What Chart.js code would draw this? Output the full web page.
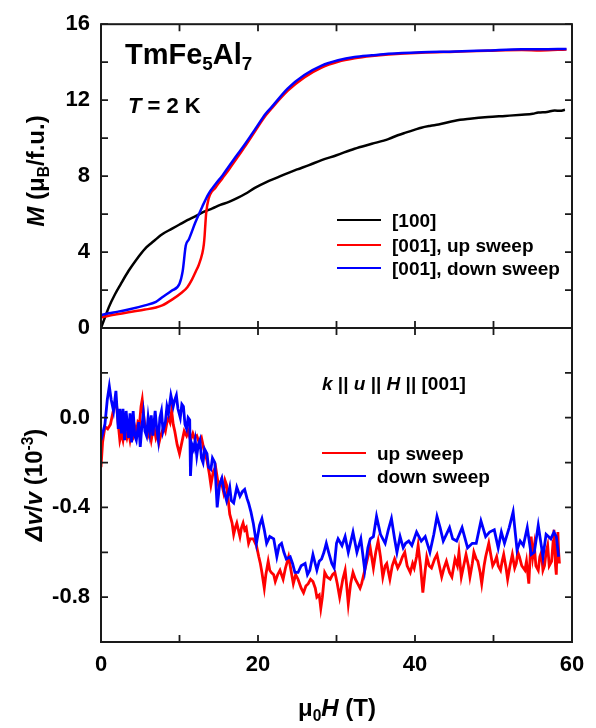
<!DOCTYPE html>
<html lang="en">
<head>
<meta charset="UTF-8">
<title>TmFe5Al7 - M(H) and sound velocity</title>
<script src="https://cdn.jsdelivr.net/npm/chart.js"></script>
<style>
  body { margin: 0; background: #fff; }
  .wrap { position: relative; width: 596px; height: 728px; overflow: hidden;
          font-family: "Liberation Sans", Arial, sans-serif; font-weight: bold; color: #000; }
  canvas { position: absolute; left: 0; top: 0; }
  .lbl { position: absolute; white-space: nowrap; line-height: 1; transform: translateY(-50%); }
  .ctr { position: absolute; white-space: nowrap; line-height: 1; transform: translate(-50%, -50%); }
  .rot { position: absolute; white-space: nowrap; line-height: 1; transform: translate(-50%, -50%) rotate(-90deg); }
  .sub { font-size: 65%; position: relative; top: 0.32em; }
  .sup { font-size: 65%; position: relative; top: -0.55em; }
  .key { position: absolute; height: 0; width: 44px; border-top: 2.5px solid; }
</style>
</head>
<body>
<div class="wrap">
  <canvas id="chartM" width="596" height="728"></canvas>
  <canvas id="chartV" width="596" height="728"></canvas>

  <div class="lbl" style="left:125px; top:54px; font-size:29px;">TmFe<span class="sub">5</span>Al<span class="sub">7</span></div>
  <div class="lbl" style="left:128px; top:106px; font-size:22px;"><i>T</i> = 2 K</div>

  <div class="key" style="left:337px; top:219px; border-color:#000;"></div>
  <div class="key" style="left:337px; top:244px; border-color:#ff0000;"></div>
  <div class="key" style="left:337px; top:267px; border-color:#0000ff;"></div>
  <div class="lbl" style="left:392px; top:220px; font-size:19px;">[100]</div>
  <div class="lbl" style="left:392px; top:245px; font-size:19px;">[001], up sweep</div>
  <div class="lbl" style="left:392px; top:268px; font-size:19px;">[001], down sweep</div>

  <div class="lbl" style="left:322px; top:383px; font-size:19px;"><i>k</i> || <i>u</i> || <i>H</i> || [001]</div>
  <div class="key" style="left:322px; top:452px; border-color:#ff0000;"></div>
  <div class="key" style="left:322px; top:475px; border-color:#0000ff;"></div>
  <div class="lbl" style="left:377px; top:453px; font-size:19px;">up sweep</div>
  <div class="lbl" style="left:377px; top:476px; font-size:19px;">down sweep</div>

  <div class="rot" style="left:36px; top:171px; font-size:24px;"><i>M</i> (μ<span class="sub">B</span>/f.u.)</div>
  <div class="rot" style="left:34px; top:485px; font-size:24px;"><i>Δv</i>/<i>v</i> (10<span class="sup">-3</span>)</div>
  <div class="ctr" style="left:337px; top:708px; font-size:24px;">μ<span class="sub">0</span><i>H</i> (T)</div>
</div>

<script>
// field axis (T)
const fieldTicks = [0, 10, 20, 30, 40, 50, 60];
const fieldLabels = [0, 20, 40, 60];
// magnetization axis (muB/f.u.)
const mTicks = [0, 2, 4, 6, 8, 10, 12, 14, 16];
const mLabels = [0, 4, 8, 12, 16];
// sound velocity axis (1e-3)
const dvTicks = [-1.0, -0.8, -0.6, -0.4, -0.2, 0.0, 0.2, 0.4];
const dvLabels = [-0.8, -0.4, 0.0];

// M(H), [H, M]
const m100 = [[0,0],[0.5,0.55],[1,1.1],[1.8,1.79],[2.5,2.3],[3.5,3.0],[4.5,3.6],[5.6,4.17],[6.5,4.5],[7.8,4.94],
  [9,5.22],[10,5.45],[11,5.68],[12,5.88],[13,6.1],[14.2,6.3],[15.2,6.48],[16.3,6.64],[17.4,6.85],[18.4,7.07],
  [19.6,7.38],[21,7.67],[22.5,7.93],[23.8,8.16],[25,8.35],[26.5,8.58],[28.1,8.84],[30,9.1],[32.3,9.44],[34.5,9.7],
  [36.6,9.95],[37.8,10.15],[38.8,10.29],[40,10.45],[40.8,10.55],[42,10.65],[43,10.72],[45.1,10.92],[47,11.02],[49.3,11.11],
  [51.5,11.17],[53.6,11.23],[55,11.28],[55.7,11.35],[56.8,11.38],[57.8,11.45],[58.5,11.44],[59.1,11.49]];
const m001Up = [[0,0.55],[1,0.65],[2,0.72],[3.5,0.83],[5.6,0.97],[7,1.08],[7.8,1.19],[9,1.48],[10.3,1.87],[11,2.15],
  [11.6,2.56],[12.1,3.0],[12.45,3.32],[12.9,3.92],[13.1,4.4],[13.2,4.86],[13.3,5.5],[13.4,6.05],[13.7,6.8],[14.6,7.4],
  [15.5,7.9],[16.3,8.35],[17.4,9.0],[18.4,9.6],[19.6,10.35],[21,11.2],[21.7,11.55],[23.8,12.5],[25.9,13.2],[28.1,13.72],
  [30.2,14.02],[32.3,14.2],[34.5,14.32],[36.6,14.4],[40.8,14.5],[45.1,14.55],[49.3,14.6],[53.6,14.64],[56,14.62],[59.3,14.67]];
const m001Down = [[0,0.68],[1,0.78],[2,0.85],[3.5,0.97],[5.6,1.19],[7,1.38],[7.8,1.62],[9,1.96],[10,2.33],[10.4,2.98],
  [10.8,4.34],[11.2,4.68],[12,5.54],[12.9,6.39],[13.7,7.07],[14.6,7.58],[15.5,8.05],[16.3,8.52],[17.4,9.15],[18.4,9.72],
  [19.6,10.45],[21,11.3],[21.7,11.62],[23.8,12.62],[25.9,13.32],[28.1,13.82],[30.2,14.1],[32.3,14.27],[34.5,14.36],[36.6,14.44],
  [40.8,14.52],[45.1,14.56],[49.3,14.62],[53.6,14.68],[56,14.68],[59.3,14.7]];

// dv/v (1e-3), [H, dv/v]
const dvUp = [[0,-0.22],[0.2,-0.11],[0.5,-0.04],[0.85,-0.05],[1.2,-0.03],[1.5,0.02],[1.8,0.07],[2.0,0.05],[2.2,-0.03],[2.4,-0.10],
  [2.6,-0.07],[2.8,-0.10],[3.0,-0.05],[3.3,-0.09],[3.5,-0.06],[3.7,-0.10],[3.9,-0.06],[4.1,-0.08],[4.3,-0.04],[4.5,-0.07],
  [4.7,-0.02],[4.9,-0.03],[5.1,0.05],[5.25,0.08],[5.4,0.02],[5.6,-0.04],[5.8,-0.05],[6.0,-0.08],[6.2,-0.06],[6.4,-0.10],
  [6.6,-0.06],[6.8,-0.05],[7.0,-0.09],[7.2,-0.07],[7.4,-0.11],[7.6,-0.08],[7.8,-0.06],[8.0,-0.04],[8.2,-0.06],[8.4,-0.02],
  [8.6,0.0],[8.8,-0.02],[9.0,0.03],[9.2,-0.03],[9.4,-0.06],[9.7,-0.12],[10.0,-0.16],[10.3,-0.11],[10.6,-0.06],[10.9,-0.08],
  [11.1,-0.06],[11.4,-0.10],[11.7,-0.07],[11.9,-0.09],[12.2,-0.08],[12.5,-0.11],[12.8,-0.09],[13.1,-0.14],[13.5,-0.19],[13.8,-0.25],
  [14.0,-0.30],[14.3,-0.24],[14.6,-0.22],[15.0,-0.31],[15.3,-0.28],[15.6,-0.33],[15.8,-0.28],[16.0,-0.30],[16.4,-0.43],[16.7,-0.47],
  [16.9,-0.52],[17.1,-0.49],[17.3,-0.47],[17.5,-0.50],[17.7,-0.53],[17.9,-0.49],[18.1,-0.47],[18.3,-0.50],[18.5,-0.49],[18.8,-0.56],
  [19.0,-0.54],[19.4,-0.54],[19.8,-0.57],[20.1,-0.62],[20.3,-0.65],[20.5,-0.69],[20.8,-0.76],[21.0,-0.70],[21.3,-0.64],[21.5,-0.68],
  [21.7,-0.69],[22.0,-0.70],[22.2,-0.73],[22.5,-0.70],[22.8,-0.68],[23.0,-0.70],[23.2,-0.72],[23.5,-0.67],[23.9,-0.62],[24.2,-0.68],
  [24.5,-0.74],[24.8,-0.70],[25.1,-0.72],[25.5,-0.76],[25.8,-0.78],[26.1,-0.75],[26.4,-0.74],[26.7,-0.72],[27.0,-0.73],[27.3,-0.76],
  [27.5,-0.80],[27.8,-0.79],[28.0,-0.85],[28.2,-0.80],[28.5,-0.69],[28.8,-0.71],[29.2,-0.72],[29.5,-0.70],[29.8,-0.69],[30.1,-0.74],
  [30.4,-0.80],[30.8,-0.72],[31.1,-0.68],[31.3,-0.75],[31.5,-0.83],[31.8,-0.74],[32.1,-0.69],[32.4,-0.72],[32.7,-0.74],[33.0,-0.76],
  [33.2,-0.74],[33.6,-0.68],[34.0,-0.62],[34.3,-0.58],[34.7,-0.67],[35.0,-0.60],[35.3,-0.55],[35.6,-0.62],[35.9,-0.71],[36.2,-0.66],
  [36.4,-0.65],[36.8,-0.72],[37.1,-0.66],[37.4,-0.63],[37.8,-0.67],[38.1,-0.65],[38.4,-0.62],[38.7,-0.60],[39.0,-0.66],[39.4,-0.69],
  [39.7,-0.65],[39.9,-0.67],[40.2,-0.62],[40.4,-0.57],[40.7,-0.66],[41.0,-0.78],[41.3,-0.68],[41.5,-0.62],[41.8,-0.66],[42.1,-0.67],
  [42.5,-0.63],[42.8,-0.61],[43.1,-0.66],[43.4,-0.71],[43.7,-0.67],[44.0,-0.64],[44.4,-0.69],[44.7,-0.71],[45.1,-0.63],[45.4,-0.66],
  [45.6,-0.60],[45.9,-0.71],[46.2,-0.66],[46.5,-0.61],[46.8,-0.66],[47.0,-0.71],[47.3,-0.65],[47.5,-0.60],[47.8,-0.63],[48.0,-0.64],
  [48.3,-0.69],[48.5,-0.74],[48.8,-0.66],[49.0,-0.62],[49.2,-0.59],[49.4,-0.56],[49.7,-0.62],[49.9,-0.66],[50.2,-0.64],[50.4,-0.62],
  [50.6,-0.66],[50.9,-0.68],[51.1,-0.64],[51.3,-0.61],[51.6,-0.67],[51.8,-0.72],[52.1,-0.66],[52.4,-0.61],[52.7,-0.67],[52.9,-0.65],
  [53.1,-0.60],[53.3,-0.62],[53.6,-0.66],[54.0,-0.68],[54.2,-0.64],[54.5,-0.74],[54.7,-0.60],[54.8,-0.53],[55.0,-0.62],[55.2,-0.57],
  [55.4,-0.66],[55.7,-0.68],[55.9,-0.62],[56.1,-0.60],[56.3,-0.68],[56.5,-0.66],[56.7,-0.60],[56.9,-0.57],[57.1,-0.66],[57.4,-0.64],
  [57.6,-0.55],[57.7,-0.50],[57.9,-0.66],[58.0,-0.70],[58.1,-0.58],[58.2,-0.51],[58.3,-0.60],[58.4,-0.65]];
const dvDown = [[0,-0.10],[0.5,-0.03],[0.8,0.08],[1.06,0.14],[1.3,0.08],[1.6,0.03],[1.9,0.12],[2.2,-0.05],[2.4,0.04],[2.6,-0.07],
  [2.8,0.04],[3.0,-0.10],[3.2,0.03],[3.5,-0.09],[3.7,0.02],[3.9,-0.11],[4.1,0.03],[4.3,-0.08],[4.5,-0.10],[4.8,-0.02],
  [5.0,-0.13],[5.2,-0.04],[5.4,0.02],[5.6,-0.06],[5.8,-0.08],[6.0,0.0],[6.2,-0.06],[6.4,0.01],[6.6,-0.08],[6.9,0.03],
  [7.1,-0.05],[7.3,-0.10],[7.5,0.0],[7.7,0.03],[7.9,-0.06],[8.2,-0.02],[8.4,0.05],[8.6,0.02],[8.9,0.10],[9.2,0.05],
  [9.4,0.08],[9.6,0.10],[9.8,0.04],[10.1,0.0],[10.3,0.06],[10.5,0.05],[10.7,-0.03],[10.9,-0.05],[11.1,0.0],[11.3,-0.01],
  [11.4,-0.26],[11.6,-0.12],[11.8,-0.14],[12.0,-0.10],[12.2,-0.17],[12.4,-0.12],[12.6,-0.10],[12.8,-0.18],[13.0,-0.20],[13.2,-0.14],
  [13.5,-0.16],[13.7,-0.22],[14.0,-0.23],[14.2,-0.18],[14.5,-0.20],[14.8,-0.40],[15.1,-0.30],[15.4,-0.27],[15.7,-0.33],[16.0,-0.37],
  [16.4,-0.31],[16.6,-0.37],[16.9,-0.38],[17.3,-0.31],[17.7,-0.35],[18.0,-0.33],[18.3,-0.32],[18.6,-0.36],[18.8,-0.38],[19.1,-0.42],
  [19.4,-0.47],[19.8,-0.56],[20.2,-0.48],[20.5,-0.45],[20.8,-0.50],[21.1,-0.56],[21.5,-0.53],[22.0,-0.54],[22.4,-0.62],[22.7,-0.57],
  [23.0,-0.56],[23.3,-0.60],[23.6,-0.63],[24.1,-0.62],[24.4,-0.65],[24.7,-0.69],[25.1,-0.69],[25.5,-0.66],[26.0,-0.65],[26.3,-0.70],
  [26.6,-0.68],[27.0,-0.61],[27.5,-0.68],[27.8,-0.64],[28.1,-0.63],[28.4,-0.60],[28.7,-0.56],[29.0,-0.60],[29.4,-0.65],[29.7,-0.67],
  [30.0,-0.56],[30.2,-0.54],[30.7,-0.57],[31.1,-0.53],[31.5,-0.60],[32.1,-0.51],[32.6,-0.60],[33.1,-0.54],[33.6,-0.68],[34.0,-0.58],
  [34.3,-0.54],[34.7,-0.53],[35.1,-0.44],[35.6,-0.52],[36.2,-0.56],[36.6,-0.50],[37.0,-0.45],[37.4,-0.54],[37.7,-0.60],[38.1,-0.53],
  [38.5,-0.58],[38.8,-0.56],[39.2,-0.55],[39.6,-0.57],[40.2,-0.51],[40.8,-0.55],[41.3,-0.53],[41.9,-0.60],[42.4,-0.52],[42.8,-0.44],
  [43.2,-0.49],[43.6,-0.55],[44.0,-0.52],[44.4,-0.49],[44.8,-0.54],[45.3,-0.55],[46.0,-0.49],[46.7,-0.58],[47.3,-0.56],[47.8,-0.56],
  [48.4,-0.46],[49.0,-0.53],[49.5,-0.51],[50.1,-0.50],[50.6,-0.58],[51.0,-0.51],[51.4,-0.56],[52.0,-0.49],[52.5,-0.42],[53.0,-0.59],
  [53.4,-0.55],[53.8,-0.57],[54.3,-0.49],[54.8,-0.61],[55.2,-0.60],[55.7,-0.48],[56.3,-0.62],[56.7,-0.52],[57.3,-0.54],[57.7,-0.51],
  [58.0,-0.53],[58.3,-0.62]];

const FONT = '"Liberation Sans", Arial, sans-serif';
const toXY = arr => arr.map(p => ({ x: p[0], y: p[1] }));

// frame with inward ticks on all four sides
const boxTicks = {
  id: 'boxTicks',
  afterDatasetsDraw(chart, args, opts) {
    const { ctx, chartArea: a } = chart;
    const x = chart.scales.x, y = chart.scales.y;
    ctx.save();
    ctx.strokeStyle = '#1a1a1a';
    ctx.lineWidth = 1.8;
    ctx.beginPath();
    opts.xTicks.forEach(v => {
      const p = x.getPixelForValue(v);
      ctx.moveTo(p, a.top); ctx.lineTo(p, a.top + 7);
      ctx.moveTo(p, a.bottom); ctx.lineTo(p, a.bottom - 7);
    });
    opts.yTicks.forEach(v => {
      const p = y.getPixelForValue(v);
      ctx.moveTo(a.left, p); ctx.lineTo(a.left + 7, p);
      ctx.moveTo(a.right, p); ctx.lineTo(a.right - 7, p);
    });
    ctx.stroke();
    ctx.lineWidth = 2;
    ctx.strokeRect(a.left, a.top, a.right - a.left, a.bottom - a.top);
    ctx.restore();
  }
};

function lineSet(data, color, width, smooth) {
  return {
    data: toXY(data),
    borderColor: color,
    borderWidth: width,
    pointRadius: 0,
    fill: false,
    tension: 0,
    cubicInterpolationMode: smooth ? 'monotone' : 'default'
  };
}

function yAxis(min, max, step, labels, digits) {
  return {
    type: 'linear', min: min, max: max,
    afterFit(scale) { scale.width = 101; },
    grid: { display: false, drawTicks: false },
    border: { display: false },
    ticks: {
      stepSize: step, padding: 11, color: '#000',
      font: { family: FONT, size: 22, weight: 'bold' },
      callback(v) {
        const hit = labels.some(l => Math.abs(l - v) < 1e-6);
        return hit ? (Math.abs(v) < 1e-9 ? 0 : v).toFixed(digits) : '';
      }
    }
  };
}

// upper panel: magnetization
new Chart(document.getElementById('chartM'), {
  type: 'line',
  data: {
    datasets: [
      lineSet(m001Down, '#0000ff', 2.5, true),
      lineSet(m001Up, '#ff0000', 2.5, true),
      lineSet(m100, '#000000', 2.5, true)
    ]
  },
  plugins: [boxTicks],
  options: {
    responsive: false, animation: false, devicePixelRatio: 1,
    layout: { padding: { top: 15, right: 24, bottom: 400, left: 0 } },
    plugins: {
      legend: { display: false }, tooltip: { enabled: false },
      boxTicks: { xTicks: fieldTicks, yTicks: mTicks }
    },
    scales: {
      x: { type: 'linear', min: 0, max: 60, display: false },
      y: yAxis(0, 16, 2, mLabels, 0)
    }
  }
});

// lower panel: relative sound velocity change
new Chart(document.getElementById('chartV'), {
  type: 'line',
  data: {
    datasets: [
      lineSet(dvDown, '#0000ff', 2.8, false),
      lineSet(dvUp, '#ff0000', 2.8, false)
    ]
  },
  plugins: [boxTicks],
  options: {
    responsive: false, animation: false, devicePixelRatio: 1,
    layout: { padding: { top: 328, right: 24, bottom: 0, left: 0 } },
    plugins: {
      legend: { display: false }, tooltip: { enabled: false },
      boxTicks: { xTicks: fieldTicks, yTicks: dvTicks }
    },
    scales: {
      x: {
        type: 'linear', min: 0, max: 60,
        afterFit(scale) { scale.height = 86; },
        grid: { display: false, drawTicks: false },
        border: { display: false },
        ticks: {
          stepSize: 10, padding: 10, color: '#000', maxRotation: 0,
          font: { family: FONT, size: 22, weight: 'bold' },
          callback(v) { return fieldLabels.includes(v) ? String(v) : ''; }
        }
      },
      y: yAxis(-1.0, 0.4, 0.2, dvLabels, 1)
    }
  }
});
</script>
</body>
</html>
